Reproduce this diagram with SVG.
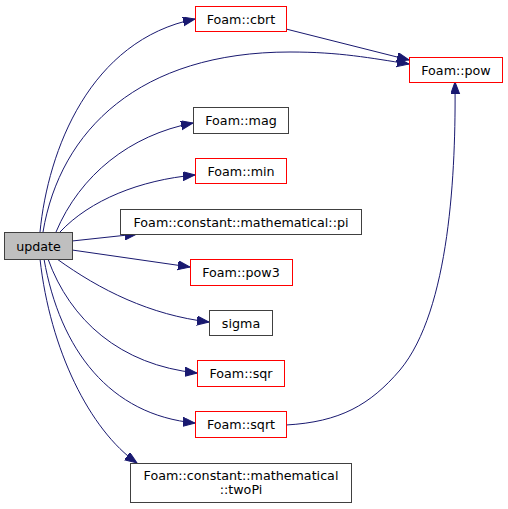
<svg xmlns="http://www.w3.org/2000/svg" width="508" height="509" viewBox="0 0 508 509">
<defs>
<marker id="arr" markerUnits="userSpaceOnUse" markerWidth="14" markerHeight="11" refX="12" refY="4.5" orient="auto">
<path d="M0,0 L12,4.5 L0,9 z" fill="#191970" stroke="#191970" stroke-width="1"/>
</marker>
<style>
.n rect{fill:#fff;stroke:#404040;stroke-width:1}
.n.r rect{stroke:#ff0000}
.n.g rect{fill:#bfbfbf}
.n text{font-family:"DejaVu Sans",sans-serif;font-size:12.7px;fill:#000;text-anchor:middle}
.e path{fill:none;stroke:#191970;stroke-width:1;marker-end:url(#arr)}
</style>
</defs>
<rect width="508" height="509" fill="#fff"/>
<g id="edges" class="e">
<path d="M40,232 C48,150 90,40 195,19"/>
<path d="M43,232 C60,130 140,52 290,52 C340,52 370,58 409,64"/>
<path d="M286,29 L409,60"/>
<path d="M56,232 C80,175 130,135 193,123"/>
<path d="M60,232 C90,200 140,180 195,175"/>
<path d="M72,241 L137,234"/>
<path d="M72,250 L190,267"/>
<path d="M57,259 C100,290 150,315 209,322"/>
<path d="M48,259 C70,320 120,365 197,373"/>
<path d="M44,259 C60,350 110,415 195,423"/>
<path d="M40,259 C50,350 90,430 137,463"/>
<path d="M286,425 C340,422 370,405 400,370 C450,310 456,170 455,82"/>
</g>
<g id="update" class="n g"><rect x="4.5" y="232.5" width="68" height="27"/><text x="38.5" y="250.5">update</text></g>
<g id="cbrt" class="n r"><rect x="195.5" y="6.5" width="91" height="25"/><text x="241" y="23.5">Foam::cbrt</text></g>
<g id="pow" class="n r"><rect x="409.5" y="57.5" width="93" height="25"/><text x="456" y="74.5">Foam::pow</text></g>
<g id="mag" class="n"><rect x="193.5" y="107.5" width="95" height="26"/><text x="241" y="124.5">Foam::mag</text></g>
<g id="min" class="n r"><rect x="195.5" y="158.5" width="91" height="25"/><text x="241" y="175.5">Foam::min</text></g>
<g id="pi" class="n"><rect x="120.5" y="209.5" width="241" height="25"/><text x="241" y="226.5">Foam::constant::mathematical::pi</text></g>
<g id="pow3" class="n r"><rect x="190.5" y="259.5" width="102" height="26"/><text x="241" y="276.5">Foam::pow3</text></g>
<g id="sigma" class="n"><rect x="209.5" y="310.5" width="63" height="25"/><text x="241" y="327.5">sigma</text></g>
<g id="sqr" class="n r"><rect x="197.5" y="360.5" width="87" height="26"/><text x="241" y="377.5">Foam::sqr</text></g>
<g id="sqrt" class="n r"><rect x="195.5" y="411.5" width="91" height="26"/><text x="241" y="428.5">Foam::sqrt</text></g>
<g id="twoPi" class="n"><rect x="130.5" y="463.5" width="221" height="39"/><text x="241" y="479.5">Foam::constant::mathematical</text><text x="241" y="494">::twoPi</text></g>
</svg>
